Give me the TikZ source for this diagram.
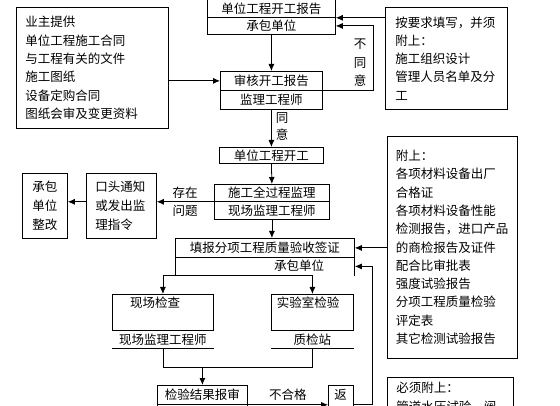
\documentclass[tikz,border=0pt]{standalone}
\usepackage{fontspec}
\newfontfamily\cjk{Noto Sans CJK SC}
\usetikzlibrary{arrows.meta}

\tikzset{
  box/.style={draw, line width=0.8pt, inner sep=0pt, anchor=north west},
  zh/.style={font=\cjk\fontsize{12.5}{18.3}\selectfont},
  zhwide/.style={font=\cjk\fontsize{12.5}{19}\selectfont},
  conn/.style={line width=0.8pt},
  arr/.style={conn, -{Latex[length=7pt, width=6pt]}},
}

\begin{document}
\begin{tikzpicture}[x=1pt, y=-1pt, zh]
\path[use as bounding box, fill=white] (0,0) rectangle (560,406);

% documents from the owner
\node[box, text width=134pt, inner xsep=9pt, minimum height=121pt, align=left] (owner) at (16,7)
  {业主提供\\单位工程施工合同\\与工程有关的文件\\施工图纸\\设备定购合同\\图纸会审及变更资料};

% main column
\node[box, minimum width=128pt, minimum height=18pt] (report) at (207,-1) {单位工程开工报告};
\node[box, minimum width=128pt, minimum height=17pt] (reportby) at (207,17) {承包单位};
\node[box, minimum width=102pt, minimum height=19pt] (audit) at (220,71) {审核开工报告};
\node[box, minimum width=102pt, minimum height=19pt] (auditby) at (220,90) {监理工程师};
\node[box, minimum width=104pt, minimum height=16pt] (begin) at (219,147) {单位工程开工};
\node[box, minimum width=115pt, minimum height=17pt] (superv) at (214,184) {施工全过程监理};
\node[box, minimum width=115pt, minimum height=18pt] (supervby) at (214,201) {现场监理工程师};
\node[box, minimum width=179pt, minimum height=19pt] (accept) at (175,238) {填报分项工程质量验收签证};
\node[box, draw=none, minimum width=179pt, minimum height=18pt] (acceptby) at (175,257) {};
\node (acceptbytext) at (299,266) {承包单位};

% inspections
\node[box, minimum width=101pt, minimum height=36pt] (site) at (112,294) {};
\node (sitetext) at (155,303) {现场检查};
\node[box, draw=none, minimum width=101pt, minimum height=18pt] (siteby) at (112,330) {现场监理工程师};
\node[box, minimum width=82pt, minimum height=36pt] (lab) at (271,294) {};
\node (labtext) at (308,303) {实验室检验};
\node[box, draw=none, minimum width=82pt, minimum height=18pt] (labby) at (271,330) {质检站};
\node[box, minimum width=90pt, minimum height=19pt] (check) at (157,385) {检验结果报审};
\node[box, minimum width=90pt, minimum height=19pt] (checkby) at (157,404) {};
\node[box, minimum width=25pt, minimum height=40pt] (back) at (328,385) {};
\node (backtext) at (340.5,395) {返};

% attachments on the right
\node[box, text width=102pt, inner xsep=10pt, minimum height=102pt, align=left] (request) at (385,7)
  {按要求填写，并须\\附上：\\施工组织设计\\管理人员名单及分\\工};
\node[box, text width=113pt, inner xsep=8.5pt, minimum height=222pt, align=left] (attach) at (387,136)
  {附上：\\各项材料设备出厂\\合格证\\各项材料设备性能\\检测报告，进口产品\\的商检报告及证件\\配合比审批表\\强度试验报告\\分项工程质量检验\\评定表\\其它检测试验报告};
\node[box, text width=108pt, inner xsep=9pt, minimum height=40pt, align=left] (must) at (387,377)
  {必须附上：\\管道水压试验，阀};

% rectification on the left
\node[box, zhwide, text width=52pt, inner xsep=9pt, minimum height=65pt, align=left] (notice) at (86,173)
  {口头通知\\或发出监\\理指令};
\node[box, zhwide, minimum width=45pt, minimum height=65pt, align=center] (rectify) at (22,173)
  {承包\\单位\\整改};

% connectors
\draw[arr] (owner.east |- audit.west) -- (audit.west);
\draw[arr] (reportby.south) -- (audit.north);
\draw[arr] (request.west |- report.south) -- (report.south east);
\draw[arr] (auditby.north east) -- ++(51,0) |- (reportby.east);
\node[align=center, font=\cjk\fontsize{12.5}{18.5}\selectfont] (nogo) at (360,63) {不\\同\\意};
\draw[arr] (auditby.south) -- (begin.north);
\node[align=center, font=\cjk\fontsize{12.5}{17}\selectfont] (agree) at (282,126.5) {同\\意};
\draw[arr] (begin.south) -- (superv.north);
\draw[arr] (superv.south west) -- (notice.east |- superv.south west);
\node[align=center] (issue) at (185,202) {存在\\问题};
\draw[arr] (notice.west |- superv.south west) -- (rectify.east |- superv.south west);
\draw[arr] (supervby.south) -- (supervby.south |- accept.north);
\draw[arr] (attach.west |- accept.east) -- (accept.east);
\draw[conn] (acceptby.north east) -- (acceptby.south east);
\draw[arr] (acceptby.north west) -- (acceptby.south west) -| (site.north);
\draw[arr] (acceptby.south west) -| (lab.north);
\draw[conn] (siteby.south west) -- (siteby.south east);
\draw[conn] (labby.south west) -- (labby.south east);
\coordinate (merge) at (163,367);
\draw[conn] (siteby.south) -- (siteby.south |- merge) -| (labby.south);
\draw[arr] (check.north |- merge) -- (check.north);
\draw[arr] (check.south east) -- (check.south east -| back.west)
  node[midway, above=1pt] (fail) {不合格};
\draw[arr] (back.east |- check.south) -- ++(19,0) |- (acceptby.east);

\end{tikzpicture}
\end{document}
